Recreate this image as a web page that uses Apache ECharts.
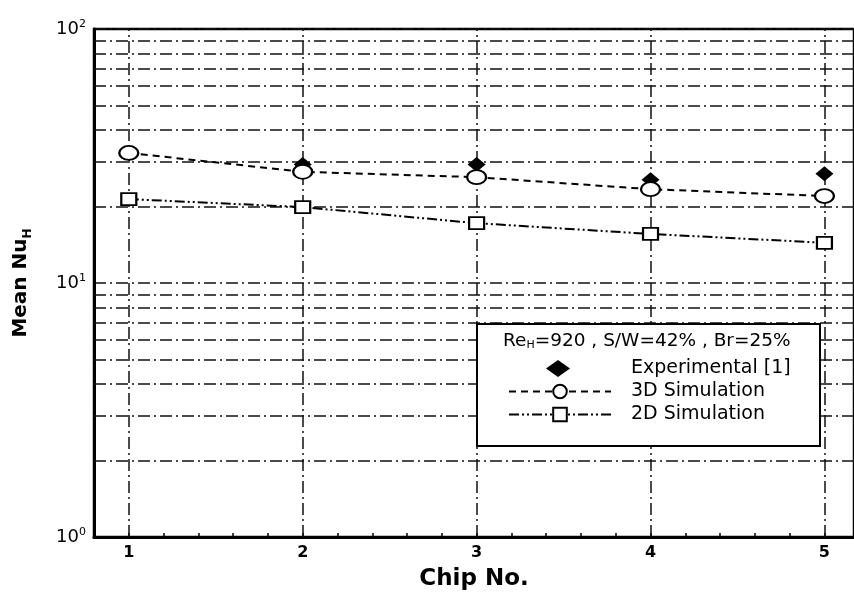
<!DOCTYPE html>
<html>
<head>
<meta charset="utf-8">
<script src="https://cdn.jsdelivr.net/npm/echarts@6/dist/echarts.min.js"></script>
<style>html,body{margin:0;padding:0;background:#fff}#c{width:854px;height:596px}</style>
</head>
<body>
<div id="c"></div>
<script>
// ---- data ----
var chips = [1, 2, 3, 4, 5];
var expChips = [2, 3, 4, 5];
var expVals = [29.3, 29.3, 25.5, 26.9];
var sim3D = [32.5, 27.4, 26.1, 23.4, 22.0];
var sim2D = [21.4, 19.9, 17.2, 15.6, 14.4];
var yMinorGrid = [2, 3, 4, 5, 6, 7, 8, 9, 20, 30, 40, 50, 60, 70, 80, 90];
var seriesNames = ['Experimental [1]', '3D Simulation', '2D Simulation'];
var legendTitle = 'Re{h|H}=920 , S/W=42% , Br=25%';

function pairs(xs, ys) { return xs.map(function (x, i) { return [x, ys[i]]; }); }

var gridLineStyle = { color: '#111', width: 1.5, type: [12, 4, 2, 4] };
var markLineData = chips.map(function (c) { return { xAxis: c }; })
  .concat(yMinorGrid.map(function (v) { return { yAxis: v }; }));

// legend icon: diamond centred in the full item box (keeps its aspect)
var legendDiamond = 'path://M0,0L0.01,0L0,0.01Z M102,17L101.99,17L102,16.99Z M49,0L61,8.5L49,17L37,8.5Z';

var chart = echarts.init(document.getElementById('c'), null, { renderer: 'canvas' });
chart.setOption({
  animation: false,
  backgroundColor: '#fff',
  textStyle: { fontFamily: 'DejaVu Sans', color: '#000' },
  grid: { left: 93, right: 0, top: 29, bottom: 59, show: true, borderColor: '#000', borderWidth: 2.5 },
  xAxis: {
    type: 'value', min: 0.8, max: 5.17, interval: 0.2,
    name: 'Chip No.', nameLocation: 'middle', nameGap: 31,
    nameTextStyle: { fontFamily: 'DejaVu Sans', fontWeight: 'bold', fontSize: 23, color: '#000' },
    axisLine: { show: true, lineStyle: { color: '#000', width: 3 } },
    axisTick: { show: true, inside: true, length: 4, lineStyle: { color: '#000', width: 1.5 } },
    axisLabel: {
      margin: 8, fontFamily: 'DejaVu Sans', fontWeight: 'bold', fontSize: 16, color: '#000',
      showMaxLabel: false,
      formatter: function (v) { var r = Math.round(v); return Math.abs(v - r) < 1e-6 ? String(r) : ''; }
    },
    splitLine: { show: false }
  },
  yAxis: {
    type: 'log', logBase: 10, min: 1, max: 100,
    name: 'Mean Nu{h|H}', nameLocation: 'middle', nameGap: 60, nameRotate: 90,
    nameTextStyle: {
      fontFamily: 'DejaVu Sans', fontWeight: 'bold', fontSize: 20, color: '#000', lineHeight: 26,
      rich: { h: { fontFamily: 'DejaVu Sans', fontWeight: 'bold', fontSize: 12, verticalAlign: 'bottom', lineHeight: 12 } }
    },
    axisLine: { show: true, lineStyle: { color: '#000', width: 3 } },
    axisTick: { show: false },
    axisLabel: {
      margin: 8, fontFamily: 'DejaVu Sans', fontSize: 18, color: '#000', lineHeight: 20,
      formatter: function (v) { return '10{s|' + Math.round(Math.log10(v)) + '}'; },
      rich: { s: { fontFamily: 'DejaVu Sans', fontSize: 11, lineHeight: 11, verticalAlign: 'top', color: '#000' } }
    },
    splitLine: { show: true, lineStyle: gridLineStyle }
  },
  legend: {
    orient: 'vertical', left: 503, top: 354, itemWidth: 102, itemHeight: 17, itemGap: 4,
    data: [
      { name: seriesNames[0], icon: legendDiamond, itemStyle: { color: '#000', opacity: 1 } },
      { name: seriesNames[1] },
      { name: seriesNames[2] }
    ],
    textStyle: { fontFamily: 'DejaVu Sans', fontSize: 19, color: '#000', padding: [0, 0, 0, 15] },
    inactiveColor: '#000'
  },
  graphic: [
    { type: 'rect', z: 3, shape: { x: 477, y: 324, width: 343, height: 122 },
      style: { fill: '#fff', stroke: '#000', lineWidth: 2 } },
    { type: 'text', z: 5, x: 503, y: 341,
      style: {
        text: legendTitle, fill: '#000', font: '18.5px "DejaVu Sans"', verticalAlign: 'middle', align: 'left',
        rich: { h: { fontSize: 11, fontFamily: 'DejaVu Sans', verticalAlign: 'bottom', lineHeight: 11 } }
      } }
  ],
  series: [
    {
      name: seriesNames[0], type: 'scatter', symbol: 'diamond', symbolSize: [18, 15], z: 3,
      itemStyle: { color: '#000', opacity: 1 }, data: pairs(expChips, expVals)
    },
    {
      name: seriesNames[1], type: 'line', symbol: 'circle', symbolSize: [19, 14], showSymbol: true, z: 4,
      lineStyle: { color: '#000', width: 2, type: [7, 5] },
      itemStyle: { color: '#fff', borderColor: '#000', borderWidth: 2 },
      data: pairs(chips, sim3D)
    },
    {
      name: seriesNames[2], type: 'line', symbol: 'rect', symbolSize: [15, 12], showSymbol: true, z: 4,
      lineStyle: { color: '#000', width: 2, type: [10, 3, 2, 3, 2, 3] },
      itemStyle: { color: '#fff', borderColor: '#000', borderWidth: 2 },
      data: pairs(chips, sim2D),
      markLine: {
        silent: true, symbol: ['none', 'none'], z: 1, label: { show: false },
        lineStyle: gridLineStyle, data: markLineData
      }
    }
  ]
});
</script>
</body>
</html>
